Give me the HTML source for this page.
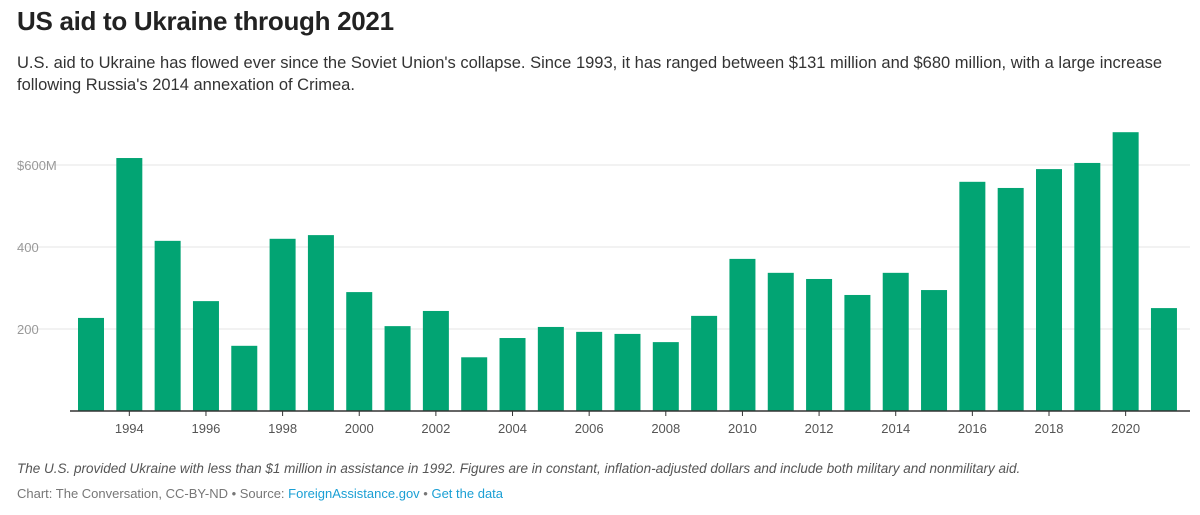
<!DOCTYPE html>
<html><head><meta charset="utf-8">
<style>
body{margin:0;width:1200px;height:515px;background:#fff;font-family:"Liberation Sans",Arial,sans-serif;overflow:hidden;position:relative}
h1{position:absolute;left:17px;top:6px;margin:0;font-size:26px;font-weight:bold;color:#222;letter-spacing:-0.3px}
.sub{position:absolute;left:17px;top:52px;width:1170px;font-size:16.5px;line-height:22px;color:#333}
.note{position:absolute;left:17px;top:461px;font-size:13.5px;font-style:italic;color:#555}
.src{position:absolute;left:17px;top:486px;font-size:13px;color:#777}
.src a{color:#1a9fd4;text-decoration:none}
svg{position:absolute;left:0;top:0}
</style></head><body>
<h1>US aid to Ukraine through 2021</h1>
<div class="sub">U.S. aid to Ukraine has flowed ever since the Soviet Union's collapse. Since 1993, it has ranged between $131 million and $680 million, with a large increase following Russia's 2014 annexation of Crimea.</div>
<svg id="chart" width="1200" height="515"></svg>
<div class="note">The U.S. provided Ukraine with less than $1 million in assistance in 1992. Figures are in constant, inflation-adjusted dollars and include both military and nonmilitary aid.</div>
<div class="src">Chart: The Conversation, CC-BY-ND • Source: <a>ForeignAssistance.gov</a> • <a>Get the data</a></div>
<script>
const years=[1993,1994,1995,1996,1997,1998,1999,2000,2001,2002,2003,2004,2005,2006,2007,2008,2009,2010,2011,2012,2013,2014,2015,2016,2017,2018,2019,2020,2021];
const values=[227,617,415,268,159,420,429,290,207,244,131,178,205,193,188,168,232,371,337,322,283,337,295,559,544,590,605,680,251];
const yTicks=[200,400,600];
const yTickLabels=["200","400","$600M"];
const svg=document.getElementById('chart');
const NS='http://www.w3.org/2000/svg';
const base=411, pxPer=0.41;
const y=v=>base-v*pxPer;
const x0=78, step=38.32, bw=26;
const x=i=>x0+i*step;
function mk(t,a){const e=document.createElementNS(NS,t);for(const k in a)e.setAttribute(k,a[k]);svg.appendChild(e);return e;}
yTicks.forEach((v,i)=>{
  const l=mk('line',{x1:17,x2:1190,y1:y(v),y2:y(v),stroke:'#e6e6e6','stroke-width':1});
  
  
  const t=mk('text',{x:17,y:y(v)+5,'font-size':13,fill:'#999'});
  t.textContent=yTickLabels[i];
  
  
});
values.forEach((v,i)=>{
  const r=mk('rect',{x:x(i),y:y(v),width:bw,height:base-y(v),fill:'#02a473'});
  
  
});
const ax=mk('line',{x1:70,x2:1190,y1:base,y2:base,stroke:'#333','stroke-width':1.5});


years.forEach((yr,i)=>{
  if(yr%2)return;
  const cx=x(i)+bw/2;
  const tk=mk('line',{x1:cx,x2:cx,y1:base,y2:base+5,stroke:'#333','stroke-width':1});
  
  
  const t=mk('text',{x:cx,y:base+22,'font-size':13,fill:'#555','text-anchor':'middle'});
  t.textContent=yr;
  
  
});
</script>
</body></html>
